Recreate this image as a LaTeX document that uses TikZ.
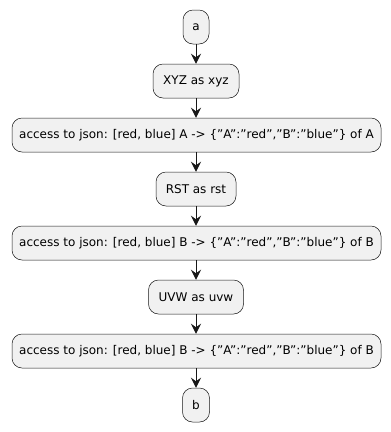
\documentclass[tikz,border=0pt]{standalone}
\usepackage{fontspec}
\setmainfont{DejaVu Sans}[Ligatures=ResetAll]
\usetikzlibrary{arrows.meta}
\definecolor{boxfill}{HTML}{F1F1F1}
\definecolor{linec}{HTML}{181818}
\newcommand{\dq}{\symbol{34}}
\tikzset{
  act/.style={draw=linec, line width=0.5pt, fill=boxfill, rounded corners=10pt,
    minimum height=34pt, inner xsep=0pt, inner ysep=0pt, font=\fontsize{12}{14}\selectfont, text=black},
  flow/.style={draw=linec, line width=1pt, -{Stealth[length=10pt,width=10pt,inset=3.5pt]}}
}
\begin{document}
\begin{tikzpicture}[x=1pt,y=-1pt]
\useasboundingbox (0,0) rectangle (391,432);
\fill[white] (0,0) rectangle (391,432);
\node[act, minimum width=26pt] (a) at (196,27) {a};
\node[act, minimum width=86pt] (xyz) at (196,81) {XYZ as xyz};
\node[act, minimum width=369pt] (j1) at (196.5,135) {access to json: [red, blue] A -> \{\dq A\dq:\dq red\dq,\dq B\dq:\dq blue\dq\} of A};
\node[act, minimum width=80pt] (rst) at (196,189) {RST as rst};
\node[act, minimum width=369pt] (j2) at (196.5,243) {access to json: [red, blue] B -> \{\dq A\dq:\dq red\dq,\dq B\dq:\dq blue\dq\} of B};
\node[act, minimum width=95pt] (uvw) at (196,297) {UVW as uvw};
\node[act, minimum width=369pt] (j3) at (196.5,351) {access to json: [red, blue] B -> \{\dq A\dq:\dq red\dq,\dq B\dq:\dq blue\dq\} of B};
\node[act, minimum width=27pt] (b) at (196,405) {b};
\foreach \p/\q in {a/xyz, xyz/j1, j1/rst, rst/j2, j2/uvw, uvw/j3, j3/b}
  \draw[flow] (\p.south -| 196,0) -- (\q.north -| 196,0);
\end{tikzpicture}
\end{document}
